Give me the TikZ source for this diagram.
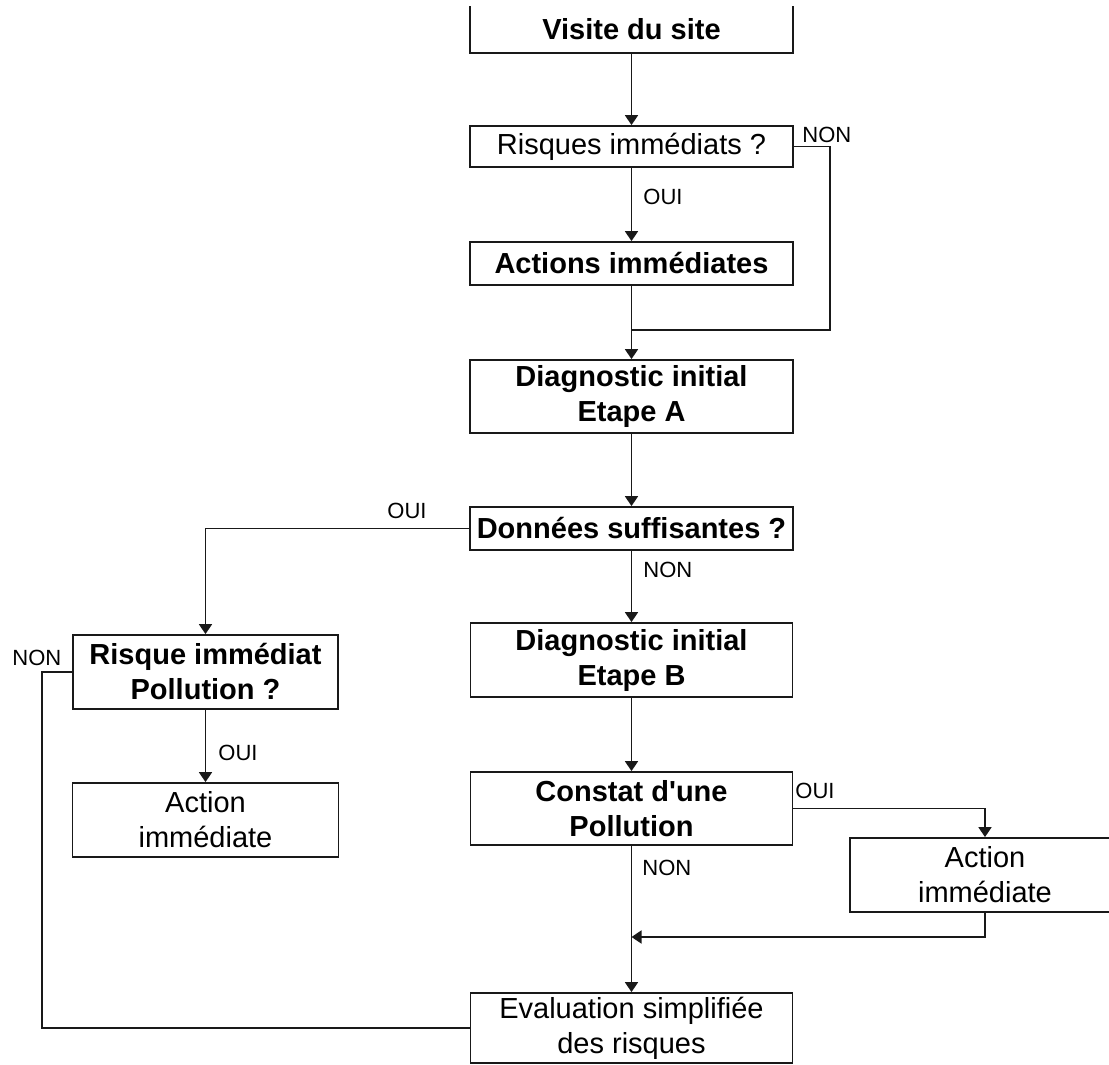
\documentclass[tikz,border=0pt]{standalone}
\usepackage{fontspec}
\setmainfont{Liberation Sans}
\usetikzlibrary{arrows.meta}
\begin{document}
\begin{tikzpicture}[x=0.5pt,y=-0.5pt,
  box/.style={draw=black!90, line width=0.9pt, inner sep=0pt, align=center,
              font=\fontsize{14.5}{17.5}\selectfont},
  bbox/.style={box, font=\fontsize{14.5}{17.5}\selectfont\bfseries},
  wh/.style 2 args={minimum width=#1*0.5pt, minimum height=#2*0.5pt},
  conn/.style={draw=black!90, line width=0.9pt},
  arr/.style={conn, -{Triangle[width=6.5pt,length=5pt]}},
  lbl/.style={font=\fontsize{11}{13}\selectfont, anchor=base west, inner sep=0pt}
]
\useasboundingbox (0,0) rectangle (1109,1065);
\clip (0,0) rectangle (1109,1065);

% main column
\node[bbox, draw=none, wh={321}{45}] (visite) at (631.5,29.5) {Visite du site};
\draw[conn] (visite.north west) -- (visite.south west) -- (visite.south east) -- (visite.north east);
\node[box, wh={323}{41}] (risq) at (631.5,146.5) {Risques immédiats ?};
\node[bbox, wh={323}{43}] (actions) at (631.5,263.5) {Actions immédiates};
\node[bbox, wh={323}{73}] (diagA) at (631.5,396.5) {Diagnostic initial\\Etape A};
\node[bbox, wh={323}{43}] (donnees) at (631.5,528.5) {Données suffisantes ?};
\node[bbox, wh={322}{74}] (diagB) at (631.5,660) {Diagnostic initial\\Etape B};
\node[bbox, wh={322}{73}] (constat) at (631.5,808.5) {Constat d\textquotesingle une\\Pollution};
\node[box, wh={322}{70}] (eval) at (631.5,1028) {Evaluation simplifiée\\des risques};

% left column
\node[bbox, wh={265}{74}] (rip) at (205.5,672) {Risque immédiat\\Pollution ?};
\node[box, wh={266}{74}] (actL) at (205.5,820) {Action\\immédiate};

% right box (its right side lies beyond the border)
\node[box, wh={270}{74}] (actR) at (985,875) {Action\\immédiate};

\coordinate (j1) at (631.5,330);
\coordinate (j2) at (631.5,937);

% connectors
\draw[arr] (visite.south) -- (risq.north);
\draw[arr] (risq.south) -- (actions.north);
\draw[conn] (risq.east) -- ++(36,0) |- (j1);
\draw[arr] (actions.south) -- (diagA.north);
\draw[arr] (diagA.south) -- (donnees.north);
\draw[arr] (donnees.west) -| (rip.north);
\draw[arr] (donnees.south) -- (diagB.north);
\draw[arr] (diagB.south) -- (constat.north);
\draw[arr] (constat.east) -| (actR.north);
\draw[arr] (actR.south) |- (j2);
\draw[arr] (constat.south) -- (eval.north);
\draw[arr] (rip.south) -- (actL.north);
\draw[conn] (rip.west) -- ++(-30,0) |- (eval.west);

% labels
\node[lbl] (l1) at (802,143) {NON};
\node[lbl] (l2) at (643,205) {OUI};
\node[lbl] (l3) at (387,518) {OUI};
\node[lbl] (l4) at (643,577) {NON};
\node[lbl] (l5) at (12,665) {NON};
\node[lbl] (l6) at (218,760) {OUI};
\node[lbl] (l7) at (795,798) {OUI};
\node[lbl] (l8) at (642,875) {NON};
\end{tikzpicture}
\end{document}
